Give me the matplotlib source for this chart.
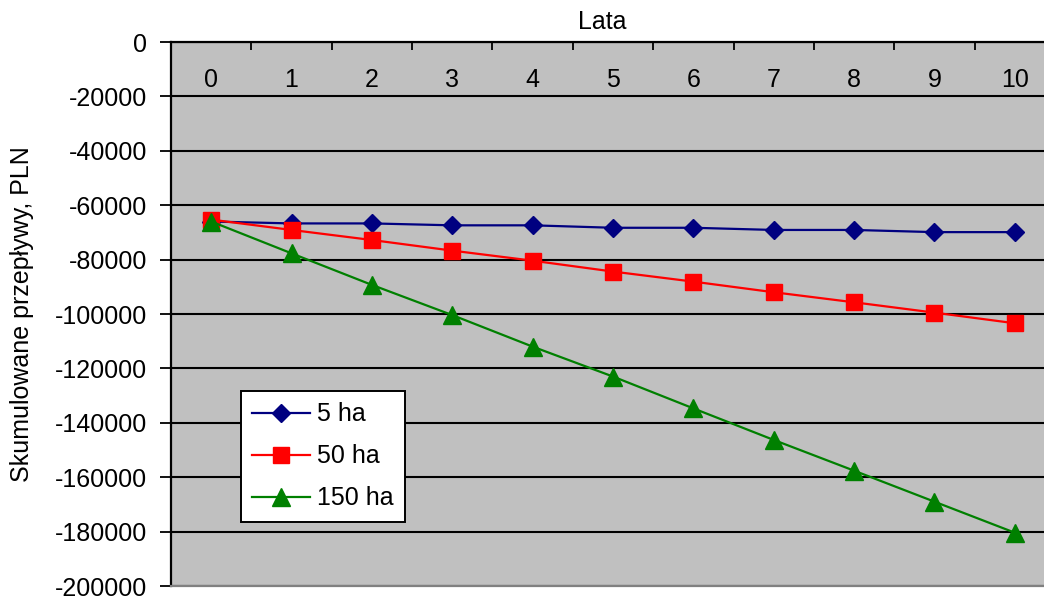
import matplotlib
matplotlib.use("Agg")
import matplotlib.pyplot as plt
from matplotlib.ticker import FixedLocator

plt.rcParams['font.family'] = ['Liberation Sans', 'DejaVu Sans']

# Years of the analysis
years = [0, 1, 2, 3, 4, 5, 6, 7, 8, 9, 10]
year_labels = [str(y) for y in years]

# Cumulative cash flows, PLN, by farm size
flows_5ha = [-66000, -66700, -66700, -67400, -67400, -68300, -68300, -69100, -69100, -69900, -69900]
flows_50ha = [-65300, -69100, -72800, -76700, -80400, -84400, -88100, -92000, -95700, -99500, -103400]
flows_150ha = [-66000, -77700, -89300, -100400, -112000, -123000, -134700, -146300, -157600, -169000, -180400]

series_labels = ['5 ha', '50 ha', '150 ha']

y_ticks = list(range(0, -200001, -20000))
y_tick_labels = [str(v) for v in y_ticks]

W, H = 1044, 598
fig = plt.figure(figsize=(W / 100, H / 100), dpi=100)
fig.patch.set_facecolor('white')

# plot area (its right edge runs past the figure border)
left_px, right_px, top_px, bot_px = 171, 1055, 42, 586
ax = fig.add_axes([left_px / W, 1 - bot_px / H, (right_px - left_px) / W, (bot_px - top_px) / H])
ax.set_facecolor('#C0C0C0')

ax.set_xlim(-0.5, 10.5)
ax.set_ylim(-200000, 0)

# horizontal gridlines
ax.set_yticks(y_ticks)
ax.set_yticklabels(y_tick_labels, fontsize=18)
ax.yaxis.grid(True, color='black', linewidth=1.5)
ax.set_axisbelow(True)
ax.tick_params(axis='y', direction='out', length=8, width=1.3, pad=9, color='black')

# category axis along the zero line at the top
ax.xaxis.set_ticks_position('top')
ax.xaxis.set_label_position('top')
ax.set_xticks(years)
ax.set_xticklabels(year_labels, fontsize=18)
ax.xaxis.set_minor_locator(FixedLocator([y + 0.5 for y in years[:-1]]))
ax.tick_params(axis='x', which='major', length=0, pad=-36, labeltop=True, labelbottom=False)
ax.tick_params(axis='x', which='minor', direction='in', length=6, width=1.3, color='black',
               top=True, bottom=False)

for side in ('top', 'left'):
    ax.spines[side].set_color('black')
    ax.spines[side].set_linewidth(1.6)
ax.spines['bottom'].set_color('#808080')
ax.spines['bottom'].set_linewidth(1.6)
ax.spines['right'].set_visible(False)

ax.plot(years, flows_5ha, color='#000080', linewidth=1.6, marker='D', markersize=9,
        markerfacecolor='#000080', markeredgecolor='#000080', label=series_labels[0], clip_on=False)
ax.plot(years, flows_50ha, color='#FF0000', linewidth=1.6, marker='s', markersize=11,
        markerfacecolor='#FF0000', markeredgecolor='#FF0000', label=series_labels[1], clip_on=False)
ax.plot(years, flows_150ha, color='#008000', linewidth=1.6, marker='^', markersize=13,
        markerfacecolor='#008000', markeredgecolor='#008000', label=series_labels[2], clip_on=False)

leg = ax.legend(loc='upper left', bbox_to_anchor=(241 / W, 1 - 391 / H), bbox_transform=fig.transFigure,
                fontsize=18, frameon=True, fancybox=False, framealpha=1, edgecolor='black',
                handlelength=2.3, handletextpad=0.3, labelspacing=0.72, borderpad=0.45,
                borderaxespad=0)
leg.get_frame().set_linewidth(1.4)

fig.text(602 / W, 1 - 22 / H, 'Lata', fontsize=18, ha='center', va='center')
fig.text(22 / W, 1 - 314 / H, 'Skumulowane przepływy, PLN', fontsize=18, rotation=90,
         ha='center', va='center')

fig.savefig('out.png', dpi=100)
